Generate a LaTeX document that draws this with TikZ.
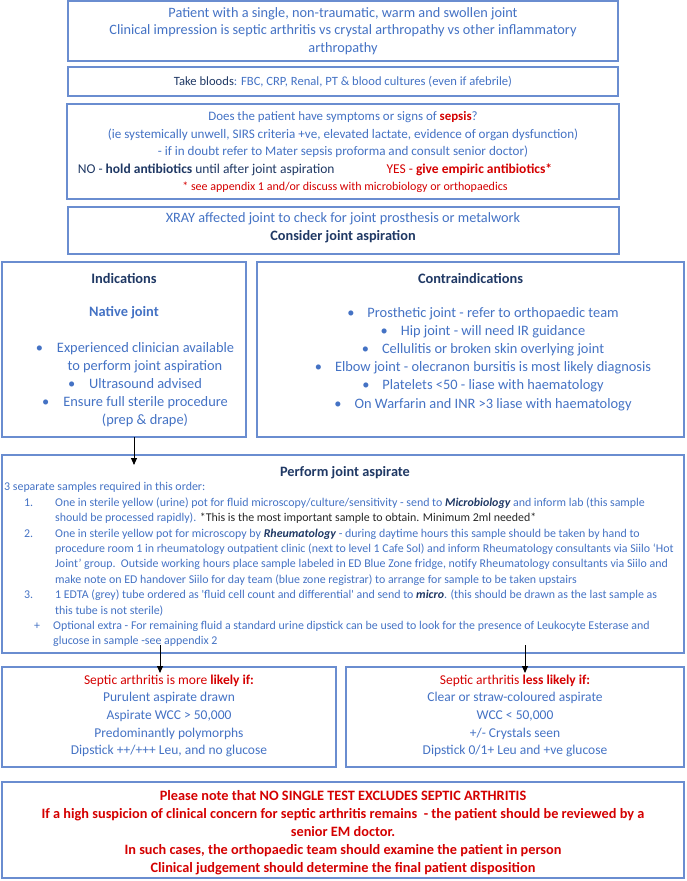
\documentclass[tikz,border=0pt]{standalone}
\usepackage{fontspec}
\setmainfont{Carlito}
\usetikzlibrary{arrows.meta}
\definecolor{tblue}{HTML}{4472C4}
\definecolor{navy}{HTML}{1F3864}
\definecolor{tred}{HTML}{D40000}
\definecolor{bord}{HTML}{6A8DD0}
\begin{document}
\begin{tikzpicture}[x=1pt,y=-1pt,
 box/.style={draw=bord, line width=1.4pt, inner sep=0pt, rectangle},
 txt/.style={text=tblue, align=center, inner sep=0pt, font=\fontsize{13.5}{17.6}\selectfont},
 btxt/.style={text=tblue, align=center, inner sep=0pt, font=\fontsize{14.4}{18.1}\selectfont},
 ptxt/.style={text=tblue, align=left, inner sep=0pt, font=\fontsize{11.9}{15.4}\selectfont},
 rtxt/.style={text=tred, align=center, inner sep=0pt, font=\fontsize{14.3}{18}\selectfont\bfseries},
 arr/.style={-{Triangle[length=7pt,width=6pt]}, line width=0.9pt, black}]
\useasboundingbox (0,0) rectangle (686,881);
% boxes
\node[box, minimum width=550pt, minimum height=60pt] (b1) at (343,31) {};
\node[box, minimum width=550pt, minimum height=29pt] (b2) at (343,81.5) {};
\node[box, minimum width=552pt, minimum height=95pt] (b3) at (343,151.5) {};
\node[box, minimum width=551pt, minimum height=47pt] (b4) at (343.5,230.5) {};
\node[box, minimum width=244pt, minimum height=175pt] (ind) at (124,349.5) {};
\node[box, minimum width=427pt, minimum height=175pt] (con) at (470.5,349.5) {};
\node[box, minimum width=682pt, minimum height=198pt] (perf) at (343,554) {};
\node[box, minimum width=334pt, minimum height=100pt] (ll) at (169,717) {};
\node[box, minimum width=338pt, minimum height=100pt] (lr) at (515,717) {};
\node[box, minimum width=682pt, minimum height=96pt] (bot) at (343,830) {};
% texts
\node[txt, font=\fontsize{14.3}{17.6}\selectfont] (t1) at (343,31) {Patient with a single, non-traumatic, warm and swollen joint\\Clinical impression is septic arthritis vs crystal arthropathy vs other inflammatory\\arthropathy};
\node[txt, font=\fontsize{12.6}{17.6}\selectfont] (t2) at (343,81.5) {\textcolor{navy}{Take bloods}: FBC, CRP, Renal, PT \& blood cultures (even if afebrile)};
\node[txt, font=\fontsize{13.1}{17.5}\selectfont] (t3a) at (343,135) {{\fontsize{12.9}{17.5}\selectfont Does the patient have symptoms or signs of \textcolor{tred}{\bfseries sepsis}?}\\(ie systemically unwell, SIRS criteria +ve, elevated lactate, evidence of organ dysfunction)\\- if in doubt refer to Mater sepsis proforma and consult senior doctor)};
\node[txt, text=navy] (t3b) at (315,170) {NO - \textbf{hold antibiotics} until after joint aspiration\hspace{52pt}\textcolor{tred}{YES - \textbf{give empiric antibiotics*}}};
\node[txt, text=tred, font=\fontsize{12}{14}\selectfont] (t3c) at (345,187) {* see appendix 1 and/or discuss with microbiology or orthopaedics};
\node[txt, font=\fontsize{14.3}{17.8}\selectfont] (t4) at (343,228) {XRAY affected joint to check for joint prosthesis or metalwork\\\textcolor{navy}{\bfseries Consider joint aspiration}};
% indications
\node[btxt, text=navy, font=\fontsize{14.4}{18}\selectfont\bfseries] (tind) at (124,278) {Indications};
\node[btxt, font=\fontsize{14.4}{18}\selectfont\bfseries] (tnat) at (124,313) {Native joint};
\node[btxt] (tindl) at (135,384.5) {\textbullet\hspace{14pt}Experienced clinician available\\\hspace{20pt}to perform joint aspiration\\\textbullet\hspace{14pt}Ultrasound advised\\\textbullet\hspace{14pt}Ensure full sterile procedure\\\hspace{20pt}(prep \& drape)};
% contraindications
\node[btxt, text=navy, font=\fontsize{14.4}{18}\selectfont\bfseries] (tcon) at (470.5,278) {Contraindications};
\node[btxt] (tconl) at (483,359) {\textbullet\hspace{13pt}Prosthetic joint - refer to orthopaedic team\\\textbullet\hspace{13pt}Hip joint - will need IR guidance\\\textbullet\hspace{13pt}Cellulitis or broken skin overlying joint\\\textbullet\hspace{13pt}Elbow joint - olecranon bursitis is most likely diagnosis\\\textbullet\hspace{13pt}Platelets <50 - liase with haematology\\\textbullet\hspace{13pt}On Warfarin and INR >3 liase with haematology};
% perform
\node[txt, text=navy, font=\fontsize{14.3}{17.6}\selectfont\bfseries] (tperf) at (345,473) {Perform joint aspirate};
\node[ptxt, anchor=north west] (tp) at (4,482.5) {%
3 separate samples required in this order:\\
\hspace*{20pt}\makebox[31pt][l]{1.}One in sterile yellow (urine) pot for fluid microscopy/culture/sensitivity - send to \textcolor{navy}{\bfseries\itshape Microbiology} and inform lab (this sample\\
\hspace*{51pt}should be processed rapidly). \textcolor{black!85}{*This is the most important sample to obtain. Minimum 2ml needed*}\\
\hspace*{20pt}\makebox[31pt][l]{2.}One in sterile yellow pot for microscopy by \textcolor{navy}{\bfseries\itshape Rheumatology} - during daytime hours this sample should be taken by hand to\\
\hspace*{51pt}procedure room 1 in rheumatology outpatient clinic (next to level 1 Cafe Sol) and inform Rheumatology consultants via Siilo ‘Hot\\
\hspace*{51pt}Joint’ group.\ \ Outside working hours place sample labeled in ED Blue Zone fridge, notify Rheumatology consultants via Siilo and\\
\hspace*{51pt}make note on ED handover Siilo for day team (blue zone registrar) to arrange for sample to be taken upstairs\\
\hspace*{20pt}\makebox[31pt][l]{3.}1 EDTA (grey) tube ordered as \textquotesingle fluid cell count and differential\textquotesingle{} and send to \textcolor{navy}{\bfseries\itshape micro}. (this should be drawn as the last sample as\\
\hspace*{51pt}this tube is not sterile)\\
\hspace*{30pt}\makebox[19pt][l]{+}Optional extra - For remaining fluid a standard urine dipstick can be used to look for the presence of Leukocyte Esterase and\\
\hspace*{49pt}glucose in sample -see appendix 2};
% lower boxes
\node[txt] (tll) at (169,716) {\textcolor{tred}{Septic arthritis is more \textbf{likely if:}}\\Purulent aspirate drawn\\Aspirate WCC > 50,000\\Predominantly polymorphs\\Dipstick ++/+++ Leu, and no glucose};
\node[txt] (tlr) at (515,716) {\textcolor{tred}{Septic arthritis \textbf{less likely if:}}\\Clear or straw-coloured aspirate\\WCC < 50,000\\+/- Crystals seen\\Dipstick 0/1+ Leu and +ve glucose};
\node[rtxt] (tbot) at (343,833) {Please note that NO SINGLE TEST EXCLUDES SEPTIC ARTHRITIS\\If a high suspicion of clinical concern for septic arthritis remains\ \ - the patient should be reviewed by a\\senior EM doctor.\\In such cases, the orthopaedic team should examine the patient in person\\Clinical judgement should determine the final patient disposition};
% arrows
\coordinate (a1s) at (134,437);
\coordinate (a1e) at (134,465);
\coordinate (a2s) at (160,645);
\coordinate (a2e) at (160,673);
\coordinate (a3s) at (525,645);
\coordinate (a3e) at (525,673);
\draw[arr] (a1s) -- (a1e);
\draw[arr] (a2s) -- (a2e);
\draw[arr] (a3s) -- (a3e);
\end{tikzpicture}
\end{document}
